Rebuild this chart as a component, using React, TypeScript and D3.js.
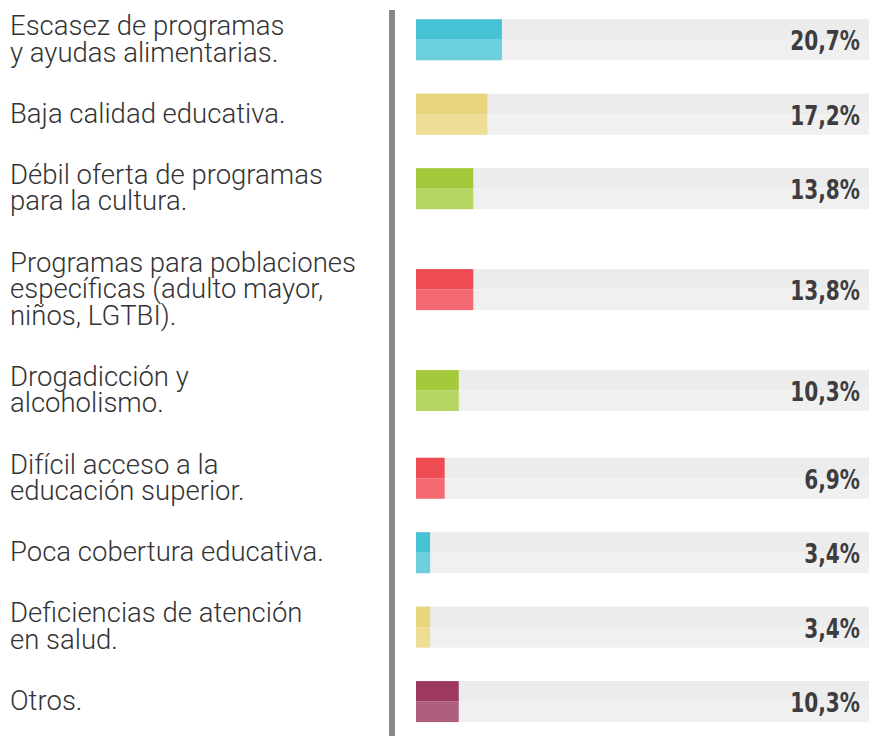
import React, { useEffect, useRef } from 'react'
import * as d3 from 'd3'

// categories (each label split in its printed lines)
const labels: string[][] = [
  ['Escasez de programas', 'y ayudas alimentarias.'],
  ['Baja calidad educativa.'],
  ['Débil oferta de programas', 'para la cultura.'],
  ['Programas para poblaciones', 'específicas (adulto mayor,', 'niños, LGTBI).'],
  ['Drogadicción y', 'alcoholismo.'],
  ['Difícil acceso a la', 'educación superior.'],
  ['Poca cobertura educativa.'],
  ['Deficiencias de atención', 'en salud.'],
  ['Otros.'],
]

const values: number[] = [20.7, 17.2, 13.8, 13.8, 10.3, 6.9, 3.4, 3.4, 10.3]

const valueLabels: string[] = ['20,7%', '17,2%', '13,8%', '13,8%', '10,3%', '6,9%', '3,4%', '3,4%', '10,3%']

const colorKeys: string[] = ['cyan', 'yellow', 'green', 'red', 'green', 'red', 'cyan', 'yellow', 'maroon']

const palette: Record<string, [string, string]> = {
  cyan: ['#45c3d5', '#6bcfdc'],
  yellow: ['#e8d57e', '#eddd95'],
  green: ['#a4ca3b', '#b5d663'],
  red: ['#ef4b53', '#f46a72'],
  maroon: ['#9d3860', '#ae5f7f'],
}

const width = 876
const height = 736

const App = () => {
  const svgRef = useRef<SVGSVGElement>(null)

  useEffect(() => {
    const svg = d3.select(svgRef.current)
    svg.selectAll('*').remove()

    const barX = 416
    const barEnd = 869
    const barH = 41
    const lineH = 26.5
    const capH = 20
    const gap = 41.2
    const firstTop = 15

    // label blocks stacked with a constant gap; bars centred on them
    const blockH = labels.map(l => capH + (l.length - 1) * lineH)
    const labelTops = blockH.map((_h, i) => firstTop + d3.sum(blockH.slice(0, i)) + i * gap)
    const barTops = labelTops.map((t, i) => t + blockH[i] / 2 + 1.5 - barH / 2)

    const x = d3.scaleLinear().domain([0, 100]).range([0, 415])

    // divider
    svg.append('rect')
      .attr('x', 389).attr('y', 10)
      .attr('width', 6).attr('height', height - 10)
      .attr('fill', '#87888a')

    const rows = svg.selectAll('g.row')
      .data(values)
      .enter()
      .append('g')
      .attr('class', 'row')
      .attr('transform', (_d, i) => `translate(0, ${barTops[i]})`)

    // track
    rows.append('rect')
      .attr('x', barX).attr('y', 0)
      .attr('width', barEnd - barX).attr('height', barH / 2)
      .attr('fill', '#ececec')
    rows.append('rect')
      .attr('x', barX).attr('y', barH / 2)
      .attr('width', barEnd - barX).attr('height', barH / 2)
      .attr('fill', '#f0f0f0')

    // bar, two tones
    rows.append('rect')
      .attr('x', barX).attr('y', 0)
      .attr('width', d => x(d)).attr('height', barH / 2)
      .attr('fill', (_d, i) => palette[colorKeys[i]][0])
    rows.append('rect')
      .attr('x', barX).attr('y', barH / 2)
      .attr('width', d => x(d)).attr('height', barH / 2)
      .attr('fill', (_d, i) => palette[colorKeys[i]][1])

    rows.append('text')
      .attr('transform', `translate(860, ${barH / 2 + 10.5}) scale(0.86, 1)`)
      .attr('text-anchor', 'end')
      .attr('font-family', '"DejaVu Sans Condensed", "DejaVu Sans", sans-serif')
      .attr('font-weight', 700)
      .attr('font-size', 26)
      .attr('fill', '#3d3d3f')
      .text((_d, i) => valueLabels[i])

    // category labels
    svg.selectAll('text.label')
      .data(labels)
      .enter()
      .append('text')
      .attr('class', 'label')
      .attr('font-family', 'Roboto, sans-serif')
      .attr('font-weight', 300)
      .attr('font-size', 27.5)
      .attr('fill', '#333335')
      .each(function (lines, i) {
        d3.select(this).selectAll('tspan')
          .data(lines)
          .enter()
          .append('tspan')
          .attr('x', 10)
          .attr('y', (_l, j) => labelTops[i] + capH + j * lineH)
          .text(l => l)
      })
  }, [])

  return (
    <svg
      ref={svgRef}
      width={width}
      height={height}
      style={{ position: 'absolute', left: 0, top: 0, background: '#fff' }}
    />
  )
}

export default App
